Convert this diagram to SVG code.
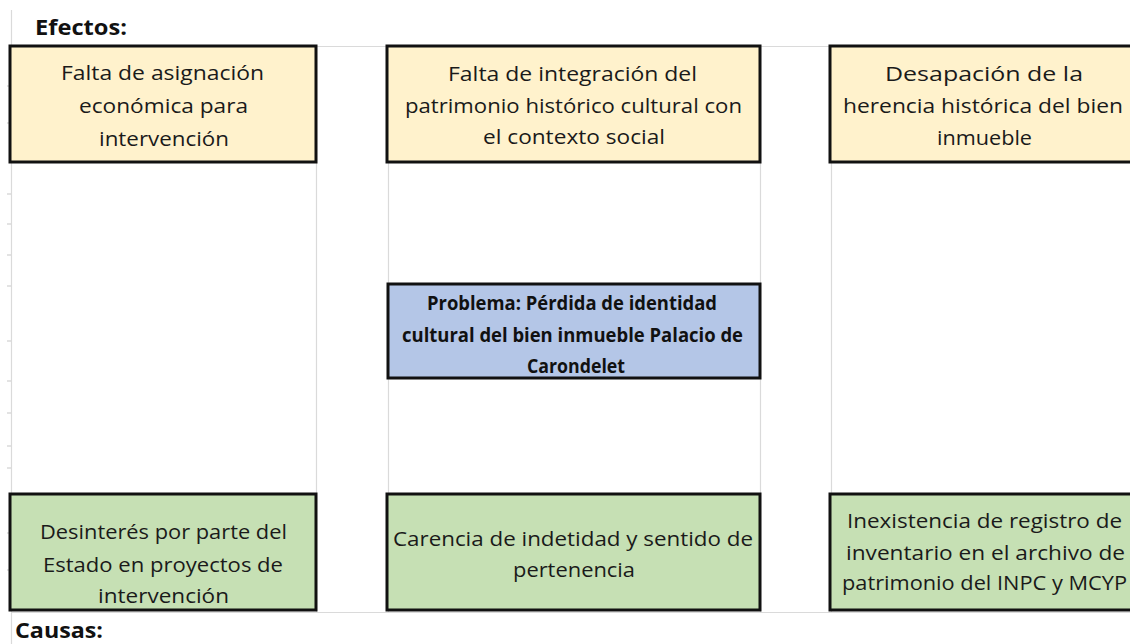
<svg xmlns="http://www.w3.org/2000/svg" width="1130" height="644" viewBox="0 0 1130 644">
<style>
.grid{stroke:#dadada;stroke-width:1.2;fill:none}
.tick{stroke:#d0d0d0;stroke-width:1.2}
.box{stroke:#111;stroke-width:3}
.eff{fill:#fff2cc}
.prob{fill:#b4c6e7}
.cau{fill:#c6e0b4}
.t{font-family:"Open Sans","Noto Sans",sans-serif;font-size:19.5px;fill:#1a1a1a;text-anchor:middle}
.b{font-family:"Open Sans","Noto Sans",sans-serif;font-size:19px;font-weight:bold;fill:#111;text-anchor:middle}
.h{font-family:"Open Sans","Noto Sans",sans-serif;font-size:21px;font-weight:bold;fill:#111}
</style>
<rect width="1130" height="644" fill="#fff"/>
<g id="grid">
<line class="grid" x1="11.5" y1="10" x2="11.5" y2="644"/>
<line class="grid" x1="316.5" y1="46" x2="316.5" y2="612"/>
<line class="grid" x1="388.5" y1="46" x2="388.5" y2="612"/>
<line class="grid" x1="760.5" y1="46" x2="760.5" y2="612"/>
<line class="grid" x1="831.5" y1="46" x2="831.5" y2="612"/>
<line class="grid" x1="316" y1="46.5" x2="1130" y2="46.5"/>
<line class="grid" x1="11" y1="612.5" x2="1130" y2="612.5"/>
<line class="tick" x1="7" y1="86" x2="11" y2="86"/>
<line class="tick" x1="7" y1="123" x2="11" y2="123"/>
<line class="tick" x1="7" y1="194" x2="11" y2="194"/>
<line class="tick" x1="7" y1="224" x2="11" y2="224"/>
<line class="tick" x1="7" y1="255" x2="11" y2="255"/>
<line class="tick" x1="7" y1="286" x2="11" y2="286"/>
<line class="tick" x1="7" y1="341" x2="11" y2="341"/>
<line class="tick" x1="7" y1="381" x2="11" y2="381"/>
<line class="tick" x1="7" y1="413" x2="11" y2="413"/>
<line class="tick" x1="7" y1="446" x2="11" y2="446"/>
<line class="tick" x1="7" y1="468" x2="11" y2="468"/>
<line class="tick" x1="7" y1="533" x2="11" y2="533"/>
<line class="tick" x1="7" y1="570" x2="11" y2="570"/>
</g>
<g id="labels">
<text class="h" x="35" y="35" textLength="92" lengthAdjust="spacingAndGlyphs">Efectos:</text>
<text class="h" x="15" y="638" textLength="88" lengthAdjust="spacingAndGlyphs">Causas:</text>
</g>
<g id="connectors"/>
<g id="efecto1">
<rect class="box eff" x="10" y="46" width="306" height="116"/>
<text class="t" x="162.5" y="80" textLength="203" lengthAdjust="spacingAndGlyphs">Falta de asignación</text>
<text class="t" x="163.5" y="113" textLength="169" lengthAdjust="spacingAndGlyphs">económica para</text>
<text class="t" x="164" y="146" textLength="130" lengthAdjust="spacingAndGlyphs">intervención</text>
</g>
<g id="efecto2">
<rect class="box eff" x="387" y="46" width="373" height="116"/>
<text class="t" x="572.5" y="81" textLength="249" lengthAdjust="spacingAndGlyphs">Falta de integración del</text>
<text class="t" x="573.5" y="113" textLength="337" lengthAdjust="spacingAndGlyphs">patrimonio histórico cultural con</text>
<text class="t" x="574" y="144" textLength="182" lengthAdjust="spacingAndGlyphs">el contexto social</text>
</g>
<g id="efecto3">
<rect class="box eff" x="830" y="46" width="310" height="116"/>
<text class="t" x="984" y="81" textLength="198" lengthAdjust="spacingAndGlyphs">Desapación de la</text>
<text class="t" x="983" y="113" textLength="280" lengthAdjust="spacingAndGlyphs">herencia histórica del bien</text>
<text class="t" x="984.5" y="145" textLength="95" lengthAdjust="spacingAndGlyphs">inmueble</text>
</g>
<g id="problema">
<rect class="box prob" x="388" y="284" width="372" height="94"/>
<text class="b" x="572" y="310" textLength="290" lengthAdjust="spacingAndGlyphs">Problema: Pérdida de identidad</text>
<text class="b" x="572.5" y="342" textLength="341" lengthAdjust="spacingAndGlyphs">cultural del bien inmueble Palacio de</text>
<text class="b" x="576" y="373" textLength="98" lengthAdjust="spacingAndGlyphs">Carondelet</text>
</g>
<g id="causa1">
<rect class="box cau" x="10" y="494" width="306" height="116"/>
<text class="t" x="163.5" y="539" textLength="247" lengthAdjust="spacingAndGlyphs">Desinterés por parte del</text>
<text class="t" x="163" y="572" textLength="240" lengthAdjust="spacingAndGlyphs">Estado en proyectos de</text>
<text class="t" x="163.5" y="603" textLength="131" lengthAdjust="spacingAndGlyphs">intervención</text>
</g>
<g id="causa2">
<rect class="box cau" x="387" y="494" width="373" height="116"/>
<text class="t" x="573" y="546" textLength="360" lengthAdjust="spacingAndGlyphs">Carencia de indetidad y sentido de</text>
<text class="t" x="574" y="577" textLength="122" lengthAdjust="spacingAndGlyphs">pertenencia</text>
</g>
<g id="causa3">
<rect class="box cau" x="830" y="494" width="310" height="116"/>
<text class="t" x="984.5" y="528" textLength="275" lengthAdjust="spacingAndGlyphs">Inexistencia de registro de</text>
<text class="t" x="985.5" y="560" textLength="279" lengthAdjust="spacingAndGlyphs">inventario en el archivo de</text>
<text class="t" x="984.5" y="590" textLength="285" lengthAdjust="spacingAndGlyphs">patrimonio del INPC y MCYP</text>
</g>
</svg>
